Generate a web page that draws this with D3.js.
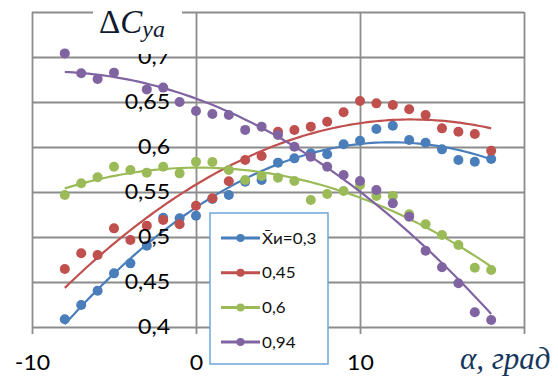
<!DOCTYPE html>
<html>
<head>
<meta charset="utf-8">
<script src="https://cdn.jsdelivr.net/npm/d3@7"></script>
<style>
  html, body { margin: 0; padding: 0; background: #fff; }
  svg { display: block; }
</style>
</head>
<body>
<svg id="chart" width="558" height="380"></svg>
<script>
// Angle of attack, degrees
const alphaDeg = [-8, -7, -6, -5, -4, -3, -2, -1, 0, 1, 2, 3, 4, 5, 6, 7, 8, 9, 10, 11, 12, 13, 14, 15, 16, 17, 18];

// ΔCya for each relative position X̄и
const cya030 = [0.4086, 0.4244, 0.4403, 0.4596, 0.4707, 0.4904, 0.5214, 0.5207, 0.5237,
                0.5422, 0.5467, 0.5614, 0.5633, 0.5826, 0.5874, 0.5930, 0.5919,
                0.6030, 0.6070, 0.6200, 0.6237, 0.6078, 0.6048, 0.5974, 0.5856, 0.5837, 0.5867];
const cya045 = [0.4644, 0.4819, 0.4800, 0.5096, 0.4967, 0.5126, 0.5189, 0.5141, 0.5348,
                0.5430, 0.5620, 0.5856, 0.5900, 0.6170, 0.6189, 0.6226, 0.6281,
                0.6386, 0.6511, 0.6485, 0.6467, 0.6419, 0.6356, 0.6207, 0.6170, 0.6144, 0.5959];
const cya060 = [0.5467, 0.5597, 0.5663, 0.5780, 0.5744, 0.5715, 0.5780, 0.5707, 0.5837,
                0.5834, 0.5744, 0.5633, 0.5678, 0.5659, 0.5622, 0.5411, 0.5478,
                0.5511, 0.5578, 0.5456, 0.5456, 0.5252, 0.5141, 0.5022, 0.4911, 0.4659, 0.4633];
const cya094 = [0.7040, 0.6820, 0.6756, 0.6826, null, 0.6640, 0.6660, 0.6500, 0.6400,
                0.6367, 0.6356, 0.6190, 0.6226, 0.6133, 0.6003, 0.5892, 0.5781,
                0.5689, 0.5622, 0.5522, 0.5374, 0.5226, 0.4848, 0.4663, 0.4486, 0.4163, 0.4078];

const seriesNames = ["X\u0304и=0,3", "0,45", "0,6", "0,94"];
const seriesColors = ["#4a7ebb", "#c0504d", "#9bbb59", "#8064a2"];

const yTicks = [0.4, 0.45, 0.5, 0.55, 0.6, 0.65, 0.7];
const yTickLabels = ["0,4", "0,45", "0,5", "0,55", "0,6", "0,65", "0,7"];
const yGrid = [0.4, 0.45, 0.5, 0.55, 0.6, 0.65, 0.7, 0.75];
const xTicks = [-10, 0, 10, 20];
const xTickLabels = ["-10", "0", "10", ""];

const allSeries = [cya030, cya045, cya060, cya094];

const svg = d3.select("#chart");
const plot = { left: 32, right: 524, top: 12, bottom: 327 };
const tickDrop = 7;
const stretch = 1.1; // horizontally widened label glyphs

const x = d3.scaleLinear().domain([-10, 20]).range([plot.left, plot.right]);
const y = d3.scaleLinear().domain([0.4, 0.75]).range([plot.bottom, plot.top]);

const gridColor = "#8c8c8c";
const labelFont = "Lato, 'Open Sans', sans-serif";
const serifFont = "'Liberation Serif', 'DejaVu Serif', serif";

// Horizontal gridlines
const gY = svg.append("g")
  .attr("transform", `translate(${plot.left},0)`)
  .call(d3.axisLeft(y).tickValues(yGrid).tickSize(-(plot.right - plot.left)).tickFormat(""));
gY.select(".domain").remove();
gY.selectAll(".tick line").attr("stroke", gridColor).attr("stroke-width", 1.8);

// Vertical gridlines, extending slightly below the plot as tick marks
const gX = svg.append("g")
  .attr("transform", `translate(0,${plot.bottom + tickDrop})`)
  .call(d3.axisBottom(x).tickValues(xTicks).tickSize(-(plot.bottom + tickDrop - plot.top)).tickFormat(""));
gX.select(".domain").remove();
gX.selectAll(".tick line").attr("stroke", gridColor).attr("stroke-width", 1.8);

// Least-squares quadratic trend through a series
function quadFit(xs, ys) {
  const pts = xs.map((a, i) => [a, ys[i]]).filter(p => p[1] != null);
  let s = [0, 0, 0, 0, 0], t = [0, 0, 0];
  pts.forEach(([a, v]) => {
    let p = 1;
    for (let k = 0; k < 5; k++) { s[k] += p; if (k < 3) t[k] += p * v; p *= a; }
  });
  const M = [[s[0], s[1], s[2], t[0]], [s[1], s[2], s[3], t[1]], [s[2], s[3], s[4], t[2]]];
  for (let i = 0; i < 3; i++) {
    for (let j = i + 1; j < 3; j++) {
      const f = M[j][i] / M[i][i];
      for (let k = i; k < 4; k++) M[j][k] -= f * M[i][k];
    }
  }
  const c = [0, 0, 0];
  for (let i = 2; i >= 0; i--) {
    let v = M[i][3];
    for (let k = i + 1; k < 3; k++) v -= M[i][k] * c[k];
    c[i] = v / M[i][i];
  }
  return a => c[0] + c[1] * a + c[2] * a * a;
}

const line = d3.line().x(d => x(d[0])).y(d => y(d[1]));
const a0 = d3.min(alphaDeg), a1 = d3.max(alphaDeg);
const samples = d3.range(0, 101).map(i => a0 + (a1 - a0) * i / 100);

allSeries.forEach((vals, si) => {
  const g = svg.append("g");
  const color = seriesColors[si];
  const pts = alphaDeg.map((a, i) => [a, vals[i]]).filter(p => p[1] != null);
  g.selectAll("circle").data(pts).join("circle")
    .attr("cx", d => x(d[0])).attr("cy", d => y(d[1])).attr("r", 5)
    .attr("fill", color);
  const f = quadFit(alphaDeg, vals);
  g.append("path")
    .attr("d", line(samples.map(a => [a, f(a)])))
    .attr("fill", "none").attr("stroke", color).attr("stroke-width", 2.2);
});

// Value labels next to the zero-angle axis
const yLab = svg.append("g")
  .attr("transform", `translate(${x(0)},0)`)
  .call(d3.axisLeft(y).tickValues(yTicks).tickSize(0).tickPadding(23.6)
    .tickFormat((d, i) => yTickLabels[i]));
yLab.select(".domain").remove();
yLab.selectAll("text")
  .attr("font-family", labelFont).attr("font-size", 21).attr("fill", "#000")
  .attr("transform", `scale(${stretch},1)`);

// Angle labels
const xLab = svg.append("g")
  .attr("transform", `translate(0,${plot.bottom + tickDrop})`)
  .call(d3.axisBottom(x).tickValues(xTicks).tickSize(0).tickPadding(21)
    .tickFormat((d, i) => xTickLabels[i]));
xLab.select(".domain").remove();
xLab.selectAll("text")
  .attr("font-family", labelFont).attr("font-size", 21).attr("fill", "#000")
  .attr("transform", `scale(${stretch},1)`);

// Axis title ΔCya on a white patch over the top border
svg.append("rect").attr("x", 93).attr("y", 0).attr("width", 89).attr("height", 54).attr("fill", "#fff");
const title = svg.append("text")
  .attr("x", 99).attr("y", 33)
  .attr("font-family", serifFont)
  .attr("fill", "#101a30");
title.append("tspan").attr("font-size", 33).text("Δ");
title.append("tspan").attr("font-size", 33).attr("font-style", "italic").text("C");
title.append("tspan").attr("font-size", 24).attr("font-style", "italic").attr("dy", 4).text("ya");

// Abscissa title
svg.append("text")
  .attr("x", 460).attr("y", 369)
  .attr("font-family", serifFont)
  .attr("font-style", "italic").attr("font-size", 31)
  .attr("fill", "#17375e")
  .text("α, град");

// Legend
const leg = svg.append("g");
leg.append("rect").attr("x", 210).attr("y", 213).attr("width", 118).attr("height", 151)
  .attr("fill", "#fff").attr("stroke", "#6ea6dc").attr("stroke-width", 1.5);
seriesNames.forEach((name, i) => {
  const cy = 238 + i * 34.7;
  const color = seriesColors[i];
  leg.append("line").attr("x1", 221).attr("x2", 260).attr("y1", cy).attr("y2", cy)
    .attr("stroke", color).attr("stroke-width", 3);
  leg.append("circle").attr("cx", 240.5).attr("cy", cy).attr("r", 4).attr("fill", color);
  leg.append("text")
    .attr("transform", `translate(262,${cy}) scale(${stretch},1)`)
    .attr("dy", "0.36em")
    .attr("font-family", labelFont).attr("font-size", 15.5).attr("fill", "#111")
    .text(name);
});
</script>
</body>
</html>
